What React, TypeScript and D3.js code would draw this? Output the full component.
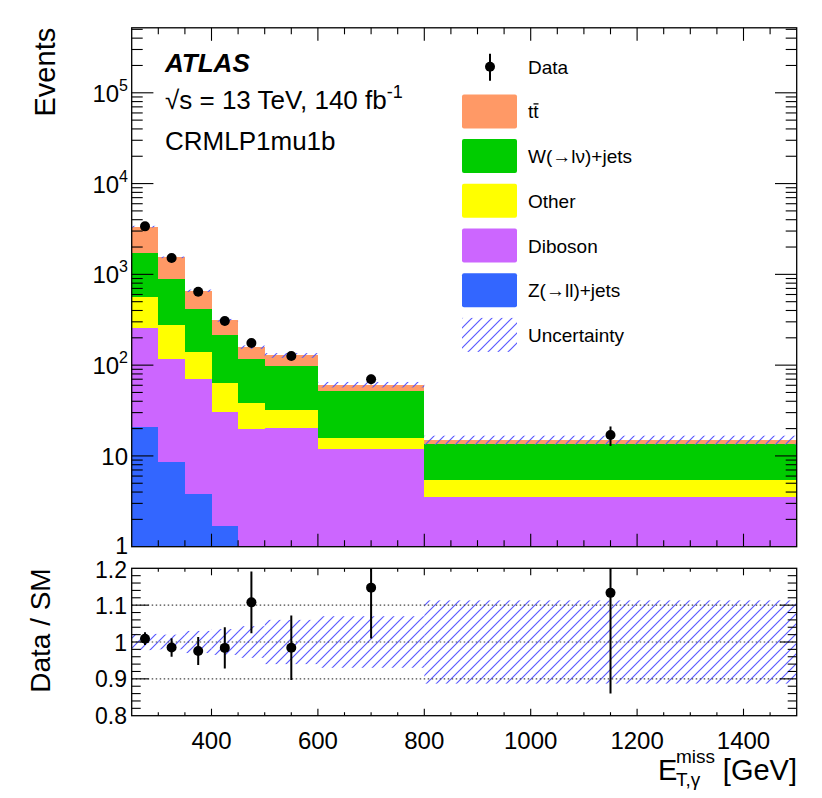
import * as d3 from 'd3';

// bin edges of E_T,gamma^miss [GeV]
const binEdges = [250, 300, 350, 400, 450, 500, 600, 800, 1500];

// stacked backgrounds, bottom -> top
const zjets = [21, 8.5, 3.8, 1.7, 0.6, 0.5, 0.3, 0.1];
const diboson = [237, 108.5, 66.5, 29, 19.2, 19.6, 11.6, 3.4];
const other = [308, 160, 67.7, 32.3, 18.7, 12, 4, 1.93];
const wjets = [1137, 604, 277, 152, 79.5, 65.7, 35.9, 7.97];
const ttbar = [1647, 659, 245, 97, 40, 30.2, 9.2, 1.6];

const dataCounts = [3380, 1517, 644, 307, 175, 126, 70, 17];
const dataErr = [58, 39, 25, 17.5, 13.2, 11.2, 8.4, 4.1];
const relUnc = [0.022, 0.02, 0.03, 0.035, 0.043, 0.06, 0.07, 0.113];

const xTickLabels = [400, 600, 800, 1000, 1200, 1400];
const yDecades = [0, 1, 2, 3, 4, 5];
const ratioTickLabels = [0.8, 0.9, 1, 1.1, 1.2];
const ratioGuides = [0.9, 1, 1.1];

const legendItems = [
  { key: 'ttbar', label: 'tt', color: '#ff9966' },
  { key: 'wjets', label: 'W(\u2192l\u03bd)+jets', color: '#00cc00' },
  { key: 'other', label: 'Other', color: '#ffff00' },
  { key: 'diboson', label: 'Diboson', color: '#cc66ff' },
  { key: 'zjets', label: 'Z(\u2192ll)+jets', color: '#3366ff' },
];
const colors: Record<string, string> = {
  zjets: '#3366ff', diboson: '#cc66ff', other: '#ffff00', wjets: '#00cc00', ttbar: '#ff9966',
};

const FONT = '"Liberation Sans", Arial, Helvetica, sans-serif';
const HATCH = '#5a5aff';

const L = 131.7, R = 796.7, T = 27.8, B = 546.7;
const RT = 568.3, RB = 715.7;

const App = () => {
  const x = d3.scaleLinear().domain([250, 1500]).range([L, R]);
  const y = d3.scaleLog().domain([1, 5.2e5]).range([B, T]);
  const r = d3.scaleLinear().domain([0.8, 1.2]).range([RB, RT]);

  const rows = binEdges.slice(0, -1).map((lo, i) => ({
    lo, hi: binEdges[i + 1],
    zjets: zjets[i], diboson: diboson[i], other: other[i], wjets: wjets[i], ttbar: ttbar[i],
  }));
  const keys = ['zjets', 'diboson', 'other', 'wjets', 'ttbar'];
  const stacked = d3.stack<any>().keys(keys)(rows);
  const totals = rows.map((_, i) => stacked[stacked.length - 1][i][1]);
  const yc = (v: number) => y(Math.max(v, 1));

  // tick lists
  const xTicks = d3.range(300, 1500, 50);
  const yTicks: { v: number; major: boolean }[] = [];
  for (let dcd = 0; dcd <= 5; dcd++) {
    for (let m = 1; m <= 9; m++) {
      const v = m * Math.pow(10, dcd);
      if (v <= 5.2e5 && v > 1) yTicks.push({ v, major: m === 1 });
    }
  }
  const rTicks = d3.range(0, 21).map((k) => 0.8 + k * 0.02).filter((v) => v > 0.801 && v < 1.199);

  const legX = 462, legY0 = 66.7, legStep = 44.7;

  return (
    <svg width={822} height={798} style={{ position: 'absolute', left: 0, top: 0, background: '#fff' }}
      fontFamily={FONT}>
      <defs>
        <pattern id="hatch" width={10} height={10} patternUnits="userSpaceOnUse">
          <path d="M0,10 L10,0 M-2,2 L2,-2 M8,12 L12,8" fill="none"
            style={{ stroke: HATCH, strokeWidth: 1.2 }} />
        </pattern>
        <clipPath id="mainClip"><rect x={L} y={T} width={R - L} height={B - T} /></clipPath>
        <clipPath id="ratioClip"><rect x={L} y={RT} width={R - L} height={RB - RT} /></clipPath>
      </defs>
      <rect x={0} y={0} width={822} height={798} fill="#fff" />

      {/* main panel stack */}
      <g clipPath="url(#mainClip)" shapeRendering="crispEdges">
        {stacked.map((layer) => (
          <g key={layer.key} fill={colors[layer.key]}>
            {layer.map((d: any, i: number) => {
              const top = yc(d[1]);
              const bot = yc(d[0]);
              return (
                <rect key={i} x={x(rows[i].lo)} width={x(rows[i].hi) - x(rows[i].lo)}
                  y={top} height={Math.max(0, bot - top)} />
              );
            })}
          </g>
        ))}
      </g>
      <g clipPath="url(#mainClip)">
        {rows.map((row, i) => {
          const top = y(totals[i] * (1 + relUnc[i]));
          const bot = y(totals[i] * (1 - relUnc[i]));
          return (
            <rect key={i} x={x(row.lo)} width={x(row.hi) - x(row.lo)} y={top} height={bot - top}
              fill="url(#hatch)" />
          );
        })}
      </g>

      {/* main frame and ticks */}
      <rect x={L} y={T} width={R - L} height={B - T} fill="none" stroke="#000" strokeWidth={1.3} />
      {xTicks.map((v) => {
        const len = v % 200 === 0 ? 13 : 6.5;
        return (
          <g key={v} stroke="#000" strokeWidth={1.1}>
            <line x1={x(v)} x2={x(v)} y1={B} y2={B - len} />
            <line x1={x(v)} x2={x(v)} y1={T} y2={T + len} />
          </g>
        );
      })}
      {yTicks.map(({ v, major }) => {
        const len = major ? 21.7 : 11;
        return (
          <g key={v} stroke="#000" strokeWidth={1.1}>
            <line x1={L} x2={L + len} y1={y(v)} y2={y(v)} />
            <line x1={R} x2={R - len} y1={y(v)} y2={y(v)} />
          </g>
        );
      })}
      {yDecades.map((k) => (
        <text key={k} x={128} y={y(Math.pow(10, k)) + (k === 0 ? 7 : 9)} textAnchor="end" fontSize={k === 0 ? 23 : 24}>
          {k === 0 ? '1' : k === 1 ? '10' : (
            <>
              <tspan>10</tspan>
              <tspan fontSize={16} dy={-11}>{k}</tspan>
            </>
          )}
        </text>
      ))}
      <text transform={`translate(55,${T}) rotate(-90)`} textAnchor="end" fontSize={29}>Events</text>

      {/* data points main */}
      {rows.map((row, i) => {
        const cx = x((row.lo + row.hi) / 2);
        return (
          <g key={i}>
            <line x1={cx} x2={cx} y1={y(dataCounts[i] + dataErr[i])} y2={y(dataCounts[i] - dataErr[i])}
              stroke="#000" strokeWidth={2} />
            <circle cx={cx} cy={y(dataCounts[i])} r={5} fill="#000" />
          </g>
        );
      })}

      {/* labels */}
      <text x={165} y={72} fontSize={26} fontWeight="bold" fontStyle="italic">ATLAS</text>
      <text x={165} y={109} fontSize={26}>
        <tspan>{'\u221As = 13 TeV, 140 fb'}</tspan>
        <tspan fontSize={18} dy={-11}>-1</tspan>
      </text>
      <text x={165} y={150} fontSize={26}>CRMLP1mu1b</text>

      {/* legend */}
      <line x1={490} x2={490} y1={legY0 - 13} y2={legY0 + 14} stroke="#000" strokeWidth={2} />
      <circle cx={490} cy={legY0} r={5} fill="#000" />
      <text x={528} y={legY0 + 7} fontSize={19}>Data</text>
      {legendItems.map((it, k) => {
        const cy = legY0 + legStep * (k + 1);
        return (
          <g key={it.key}>
            <rect x={legX} y={cy - 17} width={55} height={34} rx={2} fill={it.color} />
            <text x={528} y={cy + 7} fontSize={19}>{it.label}</text>
            {it.key === 'ttbar' && (
              <line x1={533.5} x2={538.5} y1={cy - 7.5} y2={cy - 7.5} stroke="#000" strokeWidth={1.3} />
            )}
          </g>
        );
      })}
      <rect x={legX} y={legY0 + legStep * 6 - 17} width={55} height={34} fill="url(#hatch)" />
      <text x={528} y={legY0 + legStep * 6 + 7} fontSize={19}>Uncertainty</text>

      {/* ratio panel */}
      <g clipPath="url(#ratioClip)">
        {rows.map((row, i) => (
          <rect key={i} x={x(row.lo)} width={x(row.hi) - x(row.lo)} y={r(1 + relUnc[i])}
            height={r(1 - relUnc[i]) - r(1 + relUnc[i])} fill="url(#hatch)" />
        ))}
        {ratioGuides.map((v) => (
          <line key={v} x1={L} x2={R} y1={r(v)} y2={r(v)} stroke="#444" strokeWidth={1.2}
            strokeDasharray="1.5,2.5" />
        ))}
        {rows.map((row, i) => {
          const cx = x((row.lo + row.hi) / 2);
          const ratio = dataCounts[i] / totals[i];
          const err = dataErr[i] / totals[i];
          return (
            <g key={i}>
              <line x1={cx} x2={cx} y1={r(ratio + err)} y2={r(ratio - err)} stroke="#000" strokeWidth={2} />
              <circle cx={cx} cy={r(ratio)} r={5} fill="#000" />
            </g>
          );
        })}
      </g>
      <rect x={L} y={RT} width={R - L} height={RB - RT} fill="none" stroke="#000" strokeWidth={1.3} />
      {xTicks.map((v) => {
        const len = v % 200 === 0 ? 7 : 3.5;
        return (
          <g key={v} stroke="#000" strokeWidth={1.1}>
            <line x1={x(v)} x2={x(v)} y1={RB} y2={RB - len} />
            <line x1={x(v)} x2={x(v)} y1={RT} y2={RT + len} />
          </g>
        );
      })}
      {rTicks.map((v) => {
        const major = Math.abs(Math.round(v * 10) - v * 10) < 1e-6;
        const len = major ? 17 : 9;
        return (
          <g key={v} stroke="#000" strokeWidth={1.1}>
            <line x1={L} x2={L + len} y1={r(v)} y2={r(v)} />
            <line x1={R} x2={R - len} y1={r(v)} y2={r(v)} />
          </g>
        );
      })}
      {ratioTickLabels.map((v) => (
        <text key={v} x={127} y={r(v) + (v === 1.2 ? 10 : 8.5)} textAnchor="end" fontSize={23}>{String(v)}</text>
      ))}
      {xTickLabels.map((v) => (
        <text key={v} x={x(v)} y={749} textAnchor="middle" fontSize={24}>{v}</text>
      ))}
      <text transform={`translate(50,${RT}) rotate(-90)`} textAnchor="end" fontSize={28}>Data / SM</text>

      {/* x axis title */}
      <text x={658} y={780} fontSize={29}>E</text>
      <text x={676} y={763} fontSize={19}>miss</text>
      <text x={676} y={786} fontSize={19}>{'T,\u03b3'}</text>
      <text x={797} y={780} textAnchor="end" fontSize={29}>[GeV]</text>
    </svg>
  );
};

export default App;
